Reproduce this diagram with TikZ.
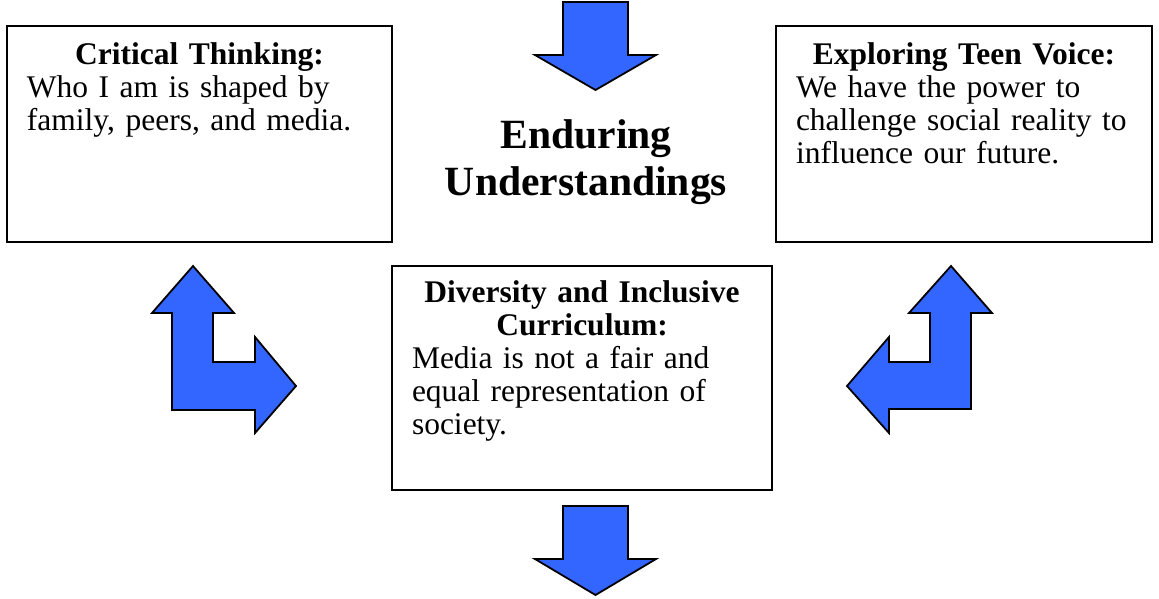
\documentclass[tikz,border=0pt]{standalone}
\usepackage{fontspec}
\setmainfont{Liberation Serif}
\usetikzlibrary{positioning}
\definecolor{arrowblue}{RGB}{51,102,255}

\tikzset{
  ubox/.style={draw=black, line width=1.8pt, inner sep=0pt},
  utext/.style={anchor=north, text width=#1, inner sep=0pt,
    font=\fontsize{31.5}{33}\selectfont},
  blockarrow/.style={draw=black, line width=1.8pt, fill=arrowblue, line join=miter},
}

\begin{document}
\begin{tikzpicture}[x=1pt, y=-1pt]
  \useasboundingbox (0,0) rectangle (1159,598);
  % the three boxes
  \node[ubox, minimum width=385, minimum height=216] (crit) at (199.5,134) {};
  \node[ubox, minimum width=380, minimum height=224] (div) at (582,378) {};
  \node[ubox, minimum width=376, minimum height=216] (teen) at (964,134) {};
  \node[utext=345pt, below=17pt of crit.north] (crittext)
    {{\centering\bfseries Critical Thinking:\par}
     Who I am is shaped by\\ family, peers, and media.};
  \node[utext=340pt, below=15pt of div.north] (divtext)
    {{\centering\bfseries Diversity and Inclusive\\ Curriculum:\par}
     Media is not a fair and\\ equal representation of\\ society.};
  \node[utext=336pt, below=17pt of teen.north] (teentext)
    {{\centering\bfseries Exploring Teen Voice:\par}
     We have the power to\\ challenge social reality to\\ influence our future.};
  % title in the middle
  \node[align=center, inner sep=0pt, font=\bfseries\fontsize{41.6}{47}\selectfont]
    (title) at (586,162) {Enduring\\Understandings};
  % straight arrows, top and bottom
  \filldraw[blockarrow] (563,2) -- (628,2) -- (628,55) -- (656,55) -- (595.5,90)
    -- (535,55) -- (563,55) -- cycle;
  \filldraw[blockarrow] (563,506) -- (628,506) -- (628,559) -- (656,559) -- (595.5,595)
    -- (535,559) -- (563,559) -- cycle;
  % bent arrows at the sides
  \filldraw[blockarrow] (193,266) -- (234,313) -- (213,313) -- (213,362) -- (255,362)
    -- (255,337) -- (296,386) -- (255,433) -- (255,410) -- (172,410) -- (172,313)
    -- (152,313) -- cycle;
  \filldraw[blockarrow] (951,266) -- (992,313) -- (971,313) -- (971,409) -- (889,409)
    -- (889,433) -- (847,386) -- (889,337) -- (889,362) -- (930,362) -- (930,313)
    -- (909,313) -- cycle;
\end{tikzpicture}
\end{document}
